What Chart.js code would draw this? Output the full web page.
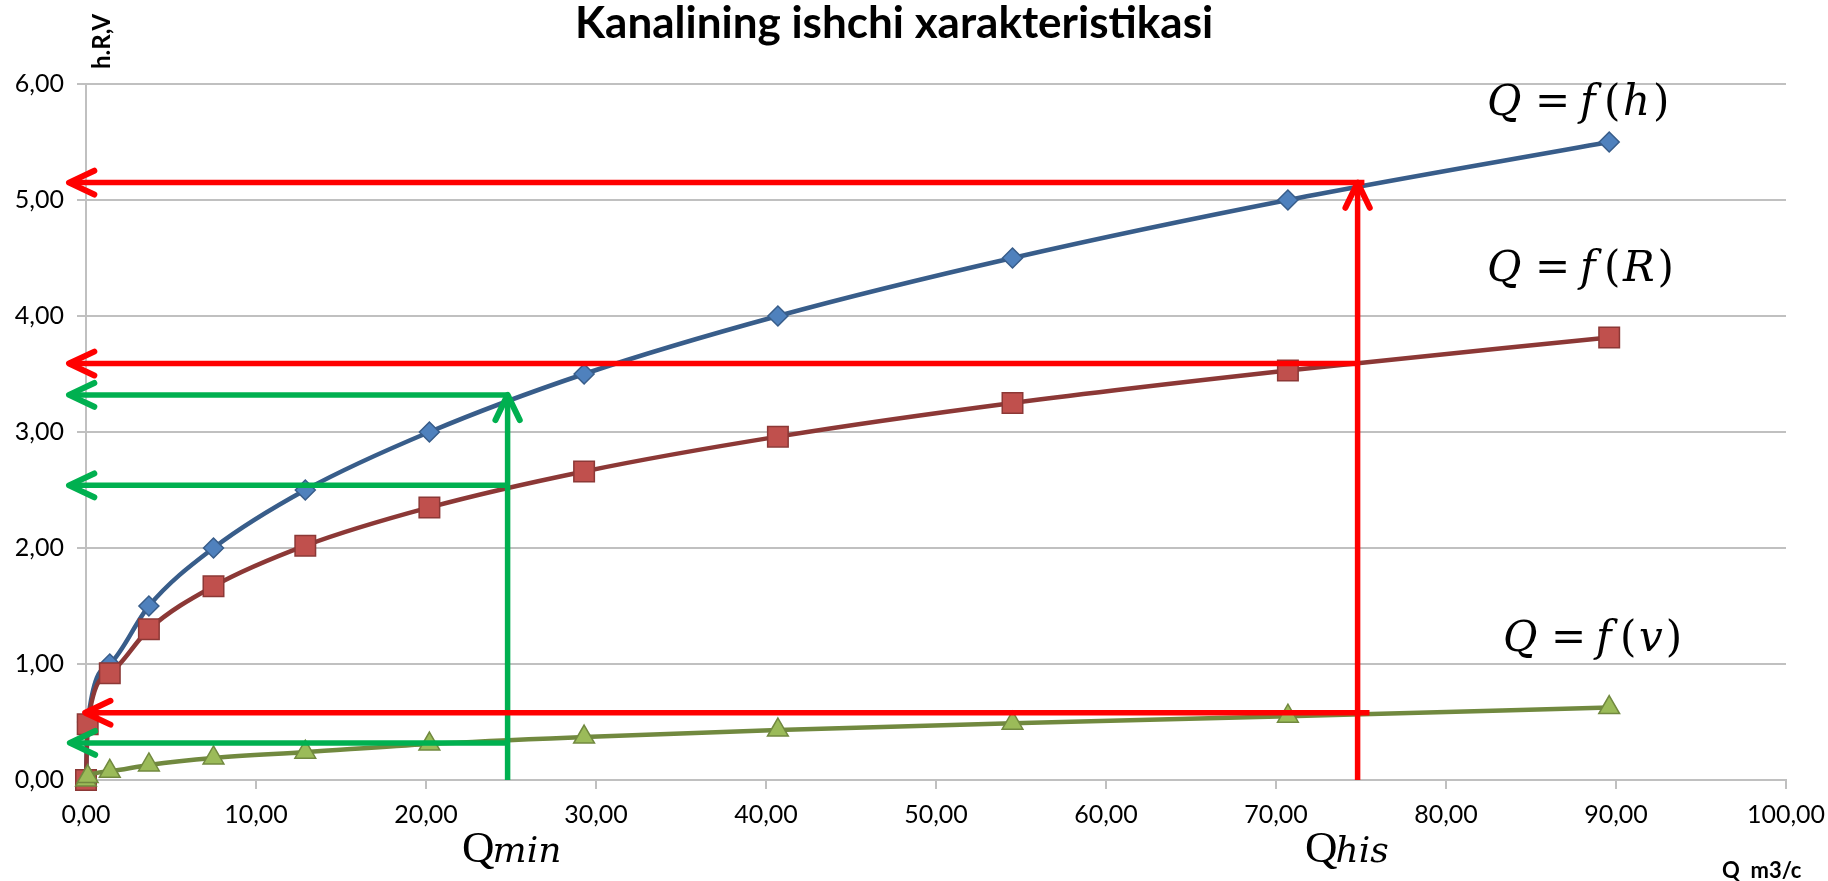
<!DOCTYPE html>
<html>
<head>
<meta charset="utf-8">
<script src="https://cdn.jsdelivr.net/npm/chart.js@4.4.0/dist/chart.umd.min.js"></script>
<style>
html,body{margin:0;padding:0;background:#ffffff;overflow:hidden}
#wrap{width:1828px;height:881px;position:relative}
</style>
</head>
<body>
<div id="wrap"><canvas id="c" width="1828" height="881"></canvas></div>
<script>
// ---------- texts ----------
const chartTitle = 'Kanalining ishchi xarakteristikasi';
const yAxisTitle = 'h.R,V';
const xAxisTitle = 'Q  m3/c';

// ---------- data ----------
const qValues = [0, 0.1, 1.4, 3.7, 7.5, 12.9, 20.2, 29.3, 40.7, 54.5, 70.7, 89.6];
const hValues = [0, 0.5, 1.0, 1.5, 2.0, 2.5, 3.0, 3.5, 4.0, 4.5, 5.0, 5.5];
const rValues = [0, 0.48, 0.92, 1.30, 1.67, 2.02, 2.35, 2.66, 2.96, 3.25, 3.53, 3.815];
const vValues = [0, 0.03, 0.075, 0.13, 0.19, 0.24, 0.31, 0.37, 0.43, 0.49, 0.55, 0.625];

const xTicks = [0, 10, 20, 30, 40, 50, 60, 70, 80, 90, 100];
const yTicks = [0, 1, 2, 3, 4, 5, 6];

// reading lines (values in axis units)
const qMin = 24.8;
const qHis = 74.8;
const minLevels = [3.32, 2.54, 0.32];   // h, R, v at Qmin
const hisLevels = [5.15, 3.59, 0.58];   // h, R, v at Qhis
const minArrowEnds = [-1.0, -1.0, -0.95];
const hisArrowEnds = [-1.0, -1.0, -0.05];
const hisLineStarts = [75.2, 74.8, 75.5];
const minLineStarts = [24.8, 24.8, 24.8];

const curveLabels = [
  {v: 'h', x: 1487, y: 115},
  {v: 'R', x: 1487, y: 281},
  {v: 'v', x: 1503, y: 651}
];

const fmt = v => Number(v).toFixed(2).replace('.', ',');
const pts = arr => qValues.map((q, i) => ({x: q, y: arr[i]}));

function arrowHead(ctx, tx, ty, dx, dy, len, ang) {
  const a = Math.atan2(dy, dx);
  ctx.beginPath();
  ctx.moveTo(tx - len * Math.cos(a - ang), ty - len * Math.sin(a - ang));
  ctx.lineTo(tx, ty);
  ctx.lineTo(tx - len * Math.cos(a + ang), ty - len * Math.sin(a + ang));
  ctx.stroke();
}

const arrowsPlugin = {
  id: 'arrows',
  afterDatasetsDraw(chart) {
    const ctx = chart.ctx, xs = chart.scales.x, ys = chart.scales.y;
    const X = v => xs.getPixelForValue(v), Y = v => ys.getPixelForValue(v);
    function group(color, q, levels, starts, ends) {
      ctx.save();
      ctx.strokeStyle = color;
      ctx.lineWidth = 5.5;
      ctx.lineCap = 'butt';
      ctx.beginPath();
      ctx.moveTo(X(q), Y(0));
      ctx.lineTo(X(q), Y(levels[0]) + 3);
      ctx.stroke();
      levels.forEach((lv, i) => {
        ctx.beginPath();
        ctx.moveTo(X(starts[i]), Y(lv));
        ctx.lineTo(X(ends[i]) + 3, Y(lv));
        ctx.stroke();
      });
      ctx.lineCap = 'round';
      ctx.lineJoin = 'round';
      ctx.lineWidth = 6;
      arrowHead(ctx, X(q), Y(levels[0]), 0, -1, 28, 0.45);
      levels.forEach((lv, i) => arrowHead(ctx, X(ends[i]), Y(lv), -1, 0, 28, 0.44));
      ctx.restore();
    }
    group('#00b050', qMin, minLevels, minLineStarts, minArrowEnds);
    group('#ff0000', qHis, hisLevels, hisLineStarts, hisArrowEnds);
  }
};

function drawFormula(ctx, x, y, v) {
  const size = 42;
  const it = 'italic ' + size + 'px "DejaVu Serif"';
  const up = size + 'px "DejaVu Serif"';
  ctx.font = it; ctx.fillText('Q', x, y);
  ctx.font = up; ctx.fillText('=', x + 48, y);
  ctx.font = it; ctx.fillText('f', x + 93, y);
  ctx.font = up; ctx.fillText('(', x + 117, y);
  ctx.font = it; ctx.fillText(v, x + 136, y);
  const w = ctx.measureText(v).width;
  ctx.font = up; ctx.fillText(')', x + 136 + w + 3, y);
}

function drawSubQ(ctx, x, y, sub) {
  ctx.font = '45px "Liberation Serif"';
  ctx.fillText('Q', x, y);
  const w = ctx.measureText('Q').width;
  ctx.font = 'italic 36px "DejaVu Serif"';
  ctx.fillText(sub, x + w - 2, y);
}

const textPlugin = {
  id: 'texts',
  afterDraw(chart) {
    const ctx = chart.ctx;
    ctx.save();
    ctx.fillStyle = '#000';
    ctx.textBaseline = 'alphabetic';
    ctx.textAlign = 'left';
    ctx.font = 'bold 44px Lato';
    ctx.fillText(chartTitle, 575, 38);
    ctx.save();
    ctx.translate(110, 69);
    ctx.rotate(-Math.PI / 2);
    ctx.font = 'bold 24px Lato';
    ctx.fillText(yAxisTitle, 0, 0);
    ctx.restore();
    ctx.font = 'bold 22px Lato';
    ctx.fillText(xAxisTitle, 1722, 878);
    curveLabels.forEach(l => drawFormula(ctx, l.x, l.y, l.v));
    drawSubQ(ctx, 462, 862, 'min');
    drawSubQ(ctx, 1305, 862, 'his');
    ctx.restore();
  }
};

const ds = (label, arr, line, fill, style, radius, order) => ({
  label, data: pts(arr),
  borderColor: line, borderWidth: 4.5,
  pointStyle: style, pointRadius: radius, pointHoverRadius: radius,
  pointBackgroundColor: fill, pointBorderColor: line, pointBorderWidth: 1.5,
  cubicInterpolationMode: 'monotone', fill: false, order, clip: false
});

new Chart(document.getElementById('c'), {
  type: 'line',
  data: {
    datasets: [
      ds('Q = f(h)', hValues, '#385d8a', '#4f81bd', 'rectRot', 10, 3),
      ds('Q = f(R)', rValues, '#8c3836', '#c0504d', 'rect', 14.5, 2),
      ds('Q = f(v)', vValues, '#71893f', '#9bbb59', 'triangle', 12, 1)
    ]
  },
  options: {
    responsive: false,
    animation: false,
    devicePixelRatio: 1,
    layout: {padding: {top: 84, right: 42, bottom: 0, left: 0}},
    plugins: {legend: {display: false}, tooltip: {enabled: false}, title: {display: false}},
    scales: {
      x: {
        type: 'linear', min: 0, max: 100,
        afterBuildTicks: s => { s.ticks = xTicks.map(v => ({value: v})); },
        afterFit: s => { s.height = 101; s.paddingLeft = 0; s.paddingRight = 0; },
        grid: {drawOnChartArea: false, drawTicks: true, tickLength: 9, color: '#c0c0c0', lineWidth: 2},
        border: {color: '#c0c0c0', width: 2},
        ticks: {callback: v => fmt(v), color: '#000', font: {family: 'Lato', size: 25}, padding: 11, maxRotation: 0, autoSkip: false}
      },
      y: {
        type: 'linear', min: 0, max: 6,
        afterBuildTicks: s => { s.ticks = yTicks.map(v => ({value: v})); },
        afterFit: s => { s.width = 86; s.paddingTop = 0; s.paddingBottom = 0; },
        grid: {color: '#c0c0c0', lineWidth: 2, tickLength: 9},
        border: {color: '#c0c0c0', width: 2},
        ticks: {callback: v => fmt(v), color: '#000', font: {family: 'Lato', size: 25}, padding: 13}
      }
    }
  },
  plugins: [arrowsPlugin, textPlugin]
});
</script>
</body>
</html>
